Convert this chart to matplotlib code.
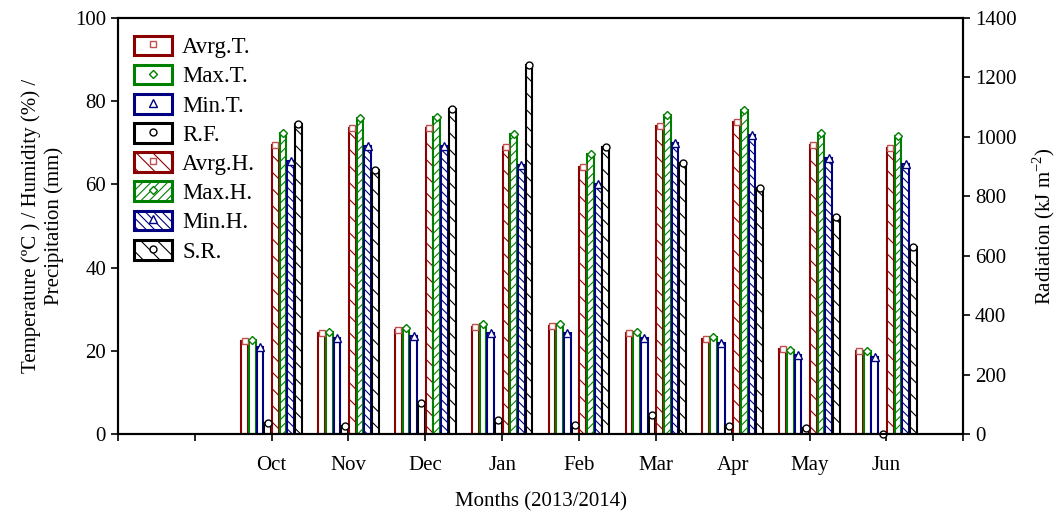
import matplotlib
matplotlib.use('Agg')
import matplotlib.pyplot as plt
from matplotlib.patches import Patch
from matplotlib.lines import Line2D
import numpy as np

plt.rcParams['font.family'] = ['Liberation Serif', 'DejaVu Serif']
plt.rcParams['hatch.linewidth'] = 0.8

months = ['Oct', 'Nov', 'Dec', 'Jan', 'Feb', 'Mar', 'Apr', 'May', 'Jun']
avrg_t = [22.4, 24.2, 25.0, 25.8, 25.9, 24.4, 22.8, 20.4, 20.0]
max_t = [22.6, 24.6, 25.6, 26.4, 26.4, 24.6, 23.4, 20.3, 20.0]
min_t = [21.0, 23.2, 23.6, 24.4, 24.4, 23.0, 21.8, 19.0, 18.5]
rain = [2.6, 1.9, 7.4, 3.4, 2.3, 4.6, 1.9, 1.4, 0.1]
avrg_h = [69.5, 73.5, 73.5, 69.0, 64.2, 74.0, 74.9, 69.5, 68.8]
max_h = [72.3, 76.0, 76.3, 72.1, 67.3, 76.8, 77.8, 72.3, 71.6]
min_h = [65.7, 69.2, 69.2, 64.7, 60.1, 70.0, 71.9, 66.3, 64.9]
solar = [1043, 889, 1094, 1242, 966, 911, 827, 730, 630]

labels = ['Avrg.T.', 'Max.T.', 'Min.T.', 'R.F.', 'Avrg.H.', 'Max.H.', 'Min.H.', 'S.R.']
series = [avrg_t, max_t, min_t, rain, avrg_h, max_h, min_h, solar]
colors = ['#8b0000', '#008000', '#000080', '#000000',
          '#8b0000', '#008000', '#000080', '#000000']
mcolors = ['#c05050', '#008000', '#000080', '#000000',
           '#c05050', '#008000', '#000080', '#000000']
markers = ['s', 'D', '^', 'o', 's', 'D', '^', 'o']
msizes = [5, 4.5, 5.5, 5, 5, 4.5, 5.5, 5]
hatches = [None, None, None, None, '\\\\', '////', '\\\\\\\\', '\\\\']
right_axis = [False] * 7 + [True]

fig = plt.figure(figsize=(10.62, 5.15), dpi=100)
ax = fig.add_axes([0.111, 0.157, 0.796, 0.808])
ax2 = ax.twinx()

x = np.arange(1, len(months) + 1)
bw = 0.1
for i, (vals, c, mc, m, ms, h, r) in enumerate(
        zip(series, colors, mcolors, markers, msizes, hatches, right_axis)):
    a = ax2 if r else ax
    off = (i - 3.5) * bw
    a.bar(x + off, vals, width=bw * 0.88, facecolor='white', edgecolor=c,
          linewidth=1.5, hatch=h, zorder=2)
    a.plot(x + off, vals, linestyle='none', marker=m, markersize=ms,
           markerfacecolor='white', markeredgecolor=mc, markeredgewidth=1.0,
           clip_on=False, zorder=5)

ax.set_xlim(-1, 10)
ax.set_ylim(0, 100)
ax2.set_ylim(0, 1400)
ax.set_xticks(np.arange(-1, 11))
ax.set_xticklabels([''] * 2 + months + [''])
ax.set_yticks(np.arange(0, 101, 20))
ax2.set_yticks(np.arange(0, 1401, 200))

for a in (ax, ax2):
    for s in a.spines.values():
        s.set_linewidth(1.5)
    a.tick_params(direction='out', length=5, width=1.2, labelsize=15)
ax.tick_params(axis='x', pad=11)

ax.set_xlabel('Months (2013/2014)', fontsize=15, labelpad=12)
ax.set_ylabel('Temperature (\u00baC ) / Humidity (%) /\nPrecipitation (mm)',
              fontsize=15, labelpad=8)
ax2.set_ylabel('Radiation (kJ m$^{\\mathregular{-2}}$)', fontsize=15, labelpad=10)

handles = []
for c, mc, m, ms, h in zip(colors, mcolors, markers, msizes, hatches):
    p = Patch(facecolor='white', edgecolor=c, linewidth=2.2, hatch=h)
    l = Line2D([], [], linestyle='none', marker=m, markersize=ms,
               markerfacecolor='white', markeredgecolor=mc, markeredgewidth=1.0)
    handles.append((p, l))
leg = ax2.legend(handles, labels, loc='upper left', bbox_to_anchor=(0.019, 0.958),
                 frameon=False, fontsize=16.5, borderpad=0, borderaxespad=0,
                 handlelength=1.65, handleheight=0.95, handletextpad=0.45,
                 labelspacing=0.28, numpoints=1)

fig.savefig('out.png', dpi=100)
